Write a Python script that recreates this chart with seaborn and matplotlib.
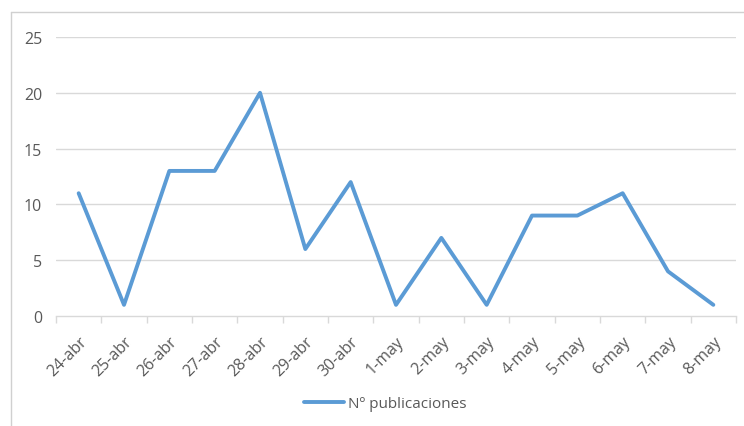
import matplotlib
matplotlib.use("Agg")
import matplotlib.pyplot as plt
from matplotlib.lines import Line2D
import seaborn as sns
import pandas as pd
import numpy as np

fechas = ["24-abr", "25-abr", "26-abr", "27-abr", "28-abr", "29-abr", "30-abr",
          "1-may", "2-may", "3-may", "4-may", "5-may", "6-may", "7-may", "8-may"]
publicaciones = [11, 1, 13, 13, 20, 6, 12, 1, 7, 1, 9, 9, 11, 4, 1]
y_ticks = [0, 5, 10, 15, 20, 25]
serie = "Nº publicaciones"

sns.set_theme(style="white")
plt.rcParams['font.family'] = ['Open Sans', 'DejaVu Sans']

df = pd.DataFrame({"x": np.arange(len(fechas)), "y": publicaciones, "serie": serie})

fig = plt.figure(figsize=(7.44, 4.27), dpi=100)
ax = fig.add_axes([56/744, 1-317/427, (736-56)/744, (317-38)/427])

grid_c = "#d9d9d9"
txt_c = "#595959"
line_c = "#5b9bd5"

for v in y_ticks[1:]:
    ax.axhline(v, color=grid_c, lw=1.0, zorder=0)

sns.lineplot(data=df, x="x", y="y", hue="serie", palette=[line_c], lw=2.8,
             ax=ax, legend=False, zorder=3)

ax.set_xlim(-0.5, len(fechas) - 0.5)
ax.set_ylim(0, 25)
ax.set_yticks(y_ticks)
ax.set_yticklabels([str(v) for v in y_ticks], color=txt_c, fontsize=11.5)
ax.set_xticks(np.arange(len(fechas)))
ax.set_xticklabels(fechas, rotation=45, ha="right", rotation_mode="anchor",
                   color=txt_c, fontsize=11.5)
ax.set_xticks(np.arange(len(fechas) + 1) - 0.5, minor=True)
ax.tick_params(axis="x", which="major", length=0, pad=12)
ax.tick_params(axis="x", which="minor", length=5, color=grid_c, width=1, direction="out", bottom=True)
ax.tick_params(axis="y", length=0, pad=10)
ax.set_xlabel("")
ax.set_ylabel("")
for s in ["top", "right", "left"]:
    ax.spines[s].set_visible(False)
ax.spines["bottom"].set_color(grid_c)
ax.spines["bottom"].set_linewidth(1.0)

handle = Line2D([0], [0], color=line_c, lw=2.8)
fig.legend([handle], [serie], loc="center", bbox_to_anchor=(385/744, 1-405/427),
           frameon=False, fontsize=11, labelcolor=txt_c, handlelength=2.6,
           handletextpad=0.25)

border_c = "#d0d0d0"
fig.add_artist(Line2D([10.5/744, 10.5/744], [0, 1-13/427], color=border_c, lw=1.0,
                      transform=fig.transFigure))
fig.add_artist(Line2D([10.5/744, 1], [1-13/427, 1-13/427], color=border_c, lw=1.0,
                      transform=fig.transFigure))

fig.savefig("out.png", dpi=100, facecolor="white")
